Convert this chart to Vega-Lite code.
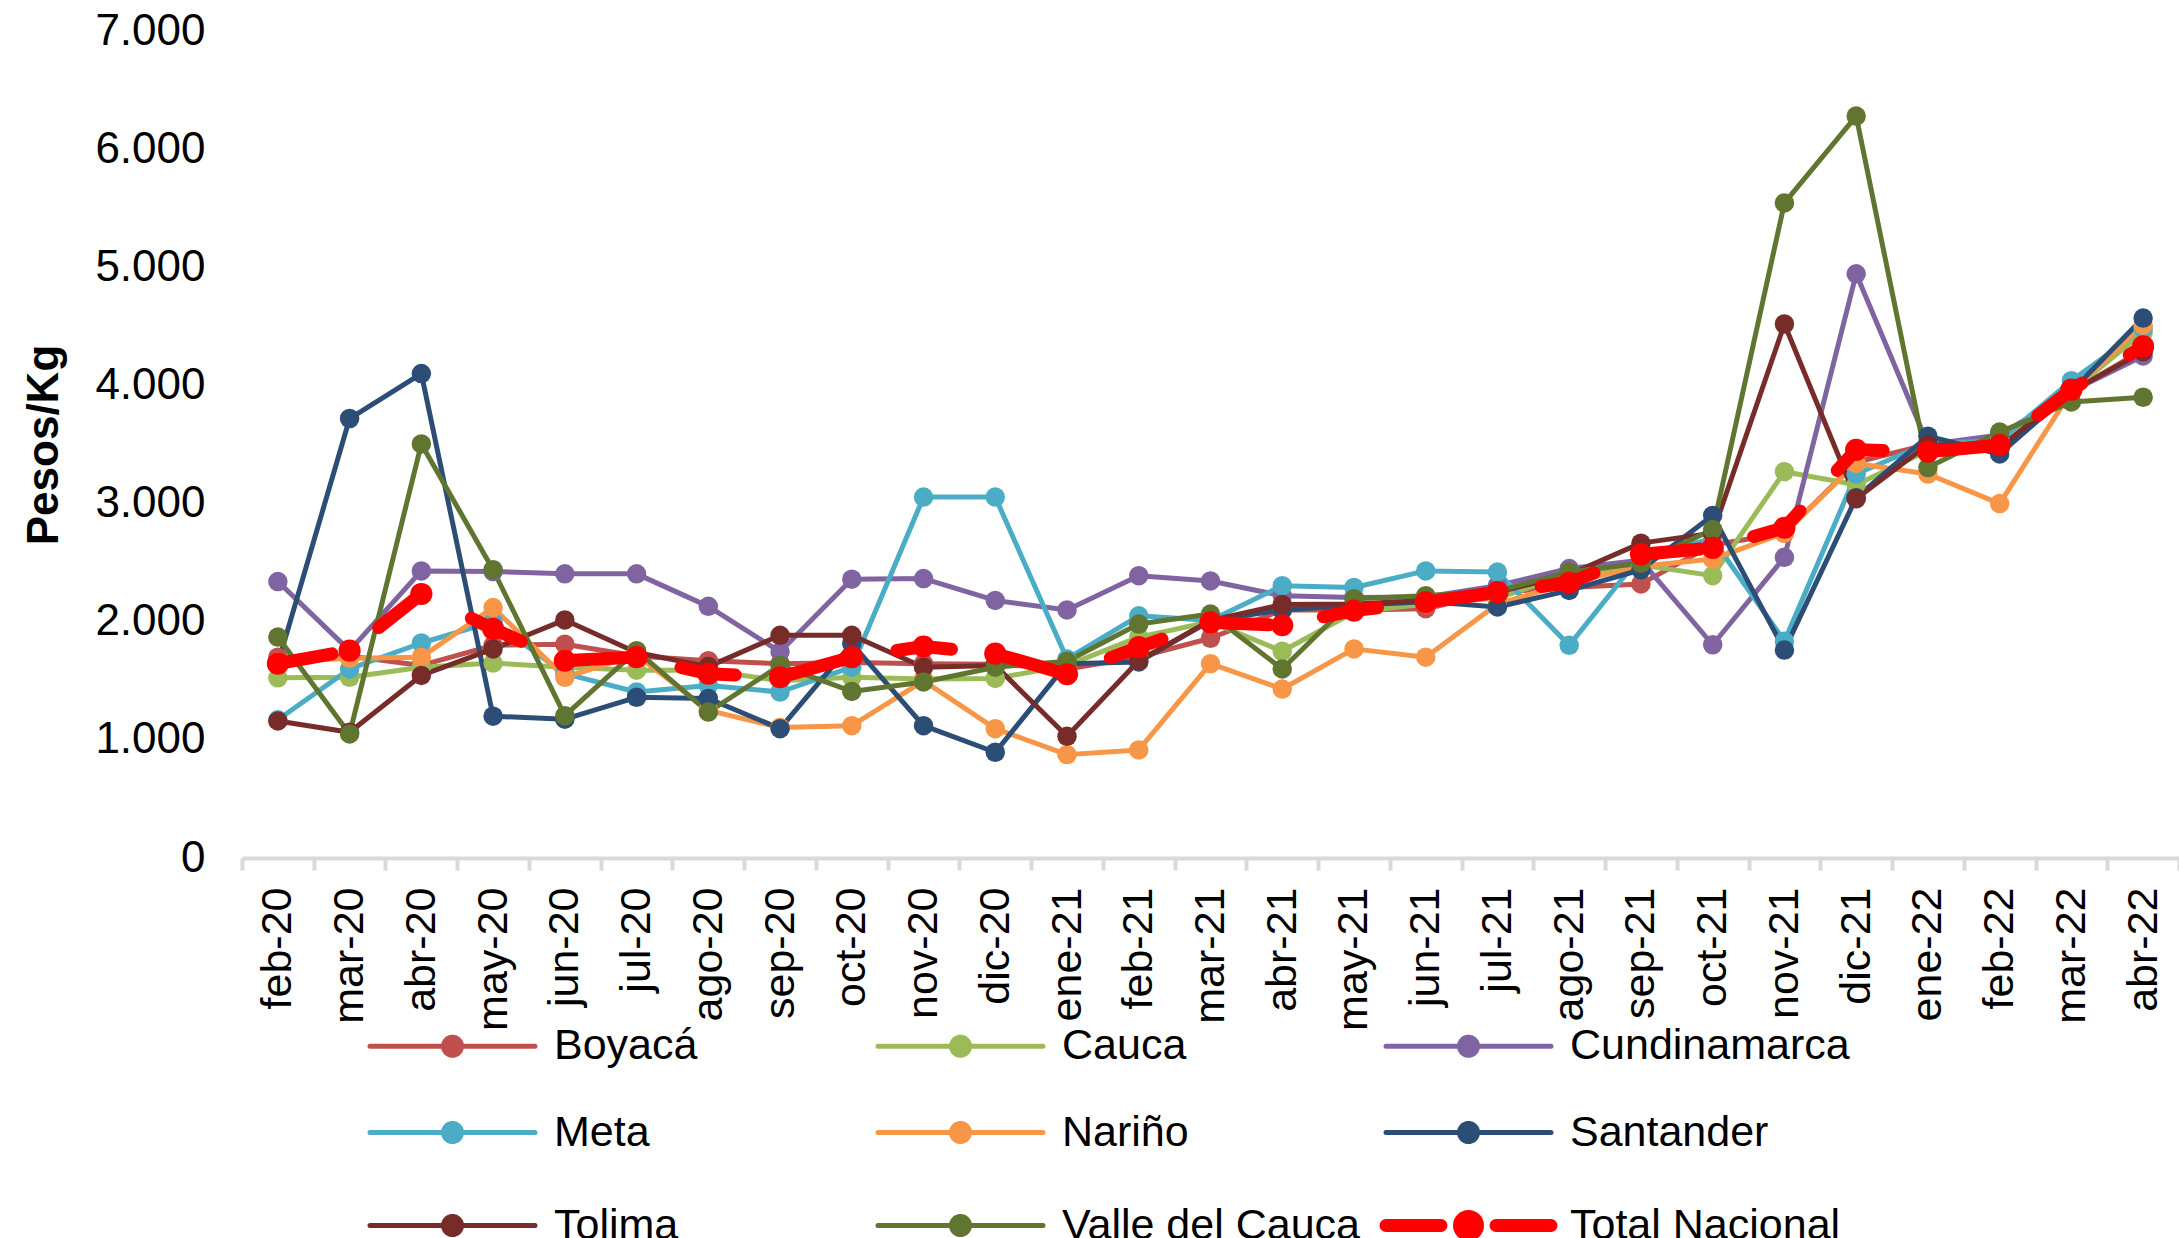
{
  "$schema": "https://vega.github.io/schema/vega-lite/v6.json",
  "width": 1937,
  "height": 827,
  "autosize": {"type": "none"},
  "padding": {"left": 242, "top": 31, "right": 0, "bottom": 380},
  "background": "white",
  "config": {
    "view": {"stroke": null},
    "font": "Liberation Sans",
    "axis": {"labelFont": "Liberation Sans", "labelColor": "#000000", "titleFont": "Liberation Sans", "titleColor": "#000000"},
    "legend": {"labelFont": "Liberation Sans", "labelColor": "#000000"}
  },
  "data": {
    "values": [
      {"mes":"feb-20","serie":"Boyacá","valor":1700},{"mes":"mar-20","serie":"Boyacá","valor":1710},{"mes":"abr-20","serie":"Boyacá","valor":1630},{"mes":"may-20","serie":"Boyacá","valor":1800},{"mes":"jun-20","serie":"Boyacá","valor":1810},{"mes":"jul-20","serie":"Boyacá","valor":1710},{"mes":"ago-20","serie":"Boyacá","valor":1670},{"mes":"sep-20","serie":"Boyacá","valor":1645},{"mes":"oct-20","serie":"Boyacá","valor":1655},{"mes":"nov-20","serie":"Boyacá","valor":1645},{"mes":"dic-20","serie":"Boyacá","valor":1640},{"mes":"ene-21","serie":"Boyacá","valor":1600},{"mes":"feb-21","serie":"Boyacá","valor":1700},{"mes":"mar-21","serie":"Boyacá","valor":1860},{"mes":"abr-21","serie":"Boyacá","valor":2100},{"mes":"may-21","serie":"Boyacá","valor":2100},{"mes":"jun-21","serie":"Boyacá","valor":2110},{"mes":"jul-21","serie":"Boyacá","valor":2250},{"mes":"ago-21","serie":"Boyacá","valor":2290},{"mes":"sep-21","serie":"Boyacá","valor":2320},{"mes":"oct-21","serie":"Boyacá","valor":2650},{"mes":"nov-21","serie":"Boyacá","valor":2750},{"mes":"dic-21","serie":"Boyacá","valor":3350},{"mes":"ene-22","serie":"Boyacá","valor":3500},{"mes":"feb-22","serie":"Boyacá","valor":3450},{"mes":"mar-22","serie":"Boyacá","valor":3950},{"mes":"abr-22","serie":"Boyacá","valor":4300},
      {"mes":"feb-20","serie":"Cauca","valor":1525},{"mes":"mar-20","serie":"Cauca","valor":1530},{"mes":"abr-20","serie":"Cauca","valor":1615},{"mes":"may-20","serie":"Cauca","valor":1650},{"mes":"jun-20","serie":"Cauca","valor":1615},{"mes":"jul-20","serie":"Cauca","valor":1590},{"mes":"ago-20","serie":"Cauca","valor":1590},{"mes":"sep-20","serie":"Cauca","valor":1500},{"mes":"oct-20","serie":"Cauca","valor":1530},{"mes":"nov-20","serie":"Cauca","valor":1515},{"mes":"dic-20","serie":"Cauca","valor":1520},{"mes":"ene-21","serie":"Cauca","valor":1630},{"mes":"feb-21","serie":"Cauca","valor":1870},{"mes":"mar-21","serie":"Cauca","valor":2000},{"mes":"abr-21","serie":"Cauca","valor":1750},{"mes":"may-21","serie":"Cauca","valor":2080},{"mes":"jun-21","serie":"Cauca","valor":2150},{"mes":"jul-21","serie":"Cauca","valor":2200},{"mes":"ago-21","serie":"Cauca","valor":2400},{"mes":"sep-21","serie":"Cauca","valor":2480},{"mes":"oct-21","serie":"Cauca","valor":2390},{"mes":"nov-21","serie":"Cauca","valor":3270},{"mes":"dic-21","serie":"Cauca","valor":3160},{"mes":"ene-22","serie":"Cauca","valor":3450},{"mes":"feb-22","serie":"Cauca","valor":3550},{"mes":"mar-22","serie":"Cauca","valor":3950},{"mes":"abr-22","serie":"Cauca","valor":4450},
      {"mes":"feb-20","serie":"Cundinamarca","valor":2340},{"mes":"mar-20","serie":"Cundinamarca","valor":1755},{"mes":"abr-20","serie":"Cundinamarca","valor":2430},{"mes":"may-20","serie":"Cundinamarca","valor":2425},{"mes":"jun-20","serie":"Cundinamarca","valor":2405},{"mes":"jul-20","serie":"Cundinamarca","valor":2405},{"mes":"ago-20","serie":"Cundinamarca","valor":2130},{"mes":"sep-20","serie":"Cundinamarca","valor":1745},{"mes":"oct-20","serie":"Cundinamarca","valor":2360},{"mes":"nov-20","serie":"Cundinamarca","valor":2365},{"mes":"dic-20","serie":"Cundinamarca","valor":2180},{"mes":"ene-21","serie":"Cundinamarca","valor":2100},{"mes":"feb-21","serie":"Cundinamarca","valor":2390},{"mes":"mar-21","serie":"Cundinamarca","valor":2345},{"mes":"abr-21","serie":"Cundinamarca","valor":2220},{"mes":"may-21","serie":"Cundinamarca","valor":2205},{"mes":"jun-21","serie":"Cundinamarca","valor":2210},{"mes":"jul-21","serie":"Cundinamarca","valor":2305},{"mes":"ago-21","serie":"Cundinamarca","valor":2450},{"mes":"sep-21","serie":"Cundinamarca","valor":2520},{"mes":"oct-21","serie":"Cundinamarca","valor":1805},{"mes":"nov-21","serie":"Cundinamarca","valor":2545},{"mes":"dic-21","serie":"Cundinamarca","valor":4945},{"mes":"ene-22","serie":"Cundinamarca","valor":3500},{"mes":"feb-22","serie":"Cundinamarca","valor":3580},{"mes":"mar-22","serie":"Cundinamarca","valor":3950},{"mes":"abr-22","serie":"Cundinamarca","valor":4250},
      {"mes":"feb-20","serie":"Meta","valor":1170},{"mes":"mar-20","serie":"Meta","valor":1600},{"mes":"abr-20","serie":"Meta","valor":1820},{"mes":"may-20","serie":"Meta","valor":2000},{"mes":"jun-20","serie":"Meta","valor":1560},{"mes":"jul-20","serie":"Meta","valor":1405},{"mes":"ago-20","serie":"Meta","valor":1460},{"mes":"sep-20","serie":"Meta","valor":1405},{"mes":"oct-20","serie":"Meta","valor":1615},{"mes":"nov-20","serie":"Meta","valor":3055},{"mes":"dic-20","serie":"Meta","valor":3055},{"mes":"ene-21","serie":"Meta","valor":1685},{"mes":"feb-21","serie":"Meta","valor":2050},{"mes":"mar-21","serie":"Meta","valor":2010},{"mes":"abr-21","serie":"Meta","valor":2305},{"mes":"may-21","serie":"Meta","valor":2290},{"mes":"jun-21","serie":"Meta","valor":2430},{"mes":"jul-21","serie":"Meta","valor":2420},{"mes":"ago-21","serie":"Meta","valor":1800},{"mes":"sep-21","serie":"Meta","valor":2560},{"mes":"oct-21","serie":"Meta","valor":2700},{"mes":"nov-21","serie":"Meta","valor":1835},{"mes":"dic-21","serie":"Meta","valor":3250},{"mes":"ene-22","serie":"Meta","valor":3510},{"mes":"feb-22","serie":"Meta","valor":3530},{"mes":"mar-22","serie":"Meta","valor":4040},{"mes":"abr-22","serie":"Meta","valor":4480},
      {"mes":"feb-20","serie":"Nariño","valor":1660},{"mes":"mar-20","serie":"Nariño","valor":1690},{"mes":"abr-20","serie":"Nariño","valor":1700},{"mes":"may-20","serie":"Nariño","valor":2120},{"mes":"jun-20","serie":"Nariño","valor":1530},{"mes":"jul-20","serie":"Nariño","valor":1720},{"mes":"ago-20","serie":"Nariño","valor":1250},{"mes":"sep-20","serie":"Nariño","valor":1105},{"mes":"oct-20","serie":"Nariño","valor":1120},{"mes":"nov-20","serie":"Nariño","valor":1500},{"mes":"dic-20","serie":"Nariño","valor":1095},{"mes":"ene-21","serie":"Nariño","valor":875},{"mes":"feb-21","serie":"Nariño","valor":915},{"mes":"mar-21","serie":"Nariño","valor":1645},{"mes":"abr-21","serie":"Nariño","valor":1430},{"mes":"may-21","serie":"Nariño","valor":1770},{"mes":"jun-21","serie":"Nariño","valor":1700},{"mes":"jul-21","serie":"Nariño","valor":2150},{"mes":"ago-21","serie":"Nariño","valor":2330},{"mes":"sep-21","serie":"Nariño","valor":2470},{"mes":"oct-21","serie":"Nariño","valor":2530},{"mes":"nov-21","serie":"Nariño","valor":2750},{"mes":"dic-21","serie":"Nariño","valor":3340},{"mes":"ene-22","serie":"Nariño","valor":3250},{"mes":"feb-22","serie":"Nariño","valor":3000},{"mes":"mar-22","serie":"Nariño","valor":3950},{"mes":"abr-22","serie":"Nariño","valor":4510},
      {"mes":"feb-20","serie":"Santander","valor":1645},{"mes":"mar-20","serie":"Santander","valor":3720},{"mes":"abr-20","serie":"Santander","valor":4100},{"mes":"may-20","serie":"Santander","valor":1200},{"mes":"jun-20","serie":"Santander","valor":1175},{"mes":"jul-20","serie":"Santander","valor":1360},{"mes":"ago-20","serie":"Santander","valor":1350},{"mes":"sep-20","serie":"Santander","valor":1095},{"mes":"oct-20","serie":"Santander","valor":1815},{"mes":"nov-20","serie":"Santander","valor":1120},{"mes":"dic-20","serie":"Santander","valor":895},{"mes":"ene-21","serie":"Santander","valor":1645},{"mes":"feb-21","serie":"Santander","valor":1660},{"mes":"mar-21","serie":"Santander","valor":2010},{"mes":"abr-21","serie":"Santander","valor":2100},{"mes":"may-21","serie":"Santander","valor":2140},{"mes":"jun-21","serie":"Santander","valor":2170},{"mes":"jul-21","serie":"Santander","valor":2125},{"mes":"ago-21","serie":"Santander","valor":2265},{"mes":"sep-21","serie":"Santander","valor":2440},{"mes":"oct-21","serie":"Santander","valor":2900},{"mes":"nov-21","serie":"Santander","valor":1760},{"mes":"dic-21","serie":"Santander","valor":3050},{"mes":"ene-22","serie":"Santander","valor":3570},{"mes":"feb-22","serie":"Santander","valor":3420},{"mes":"mar-22","serie":"Santander","valor":3950},{"mes":"abr-22","serie":"Santander","valor":4570},
      {"mes":"feb-20","serie":"Tolima","valor":1160},{"mes":"mar-20","serie":"Tolima","valor":1065},{"mes":"abr-20","serie":"Tolima","valor":1545},{"mes":"may-20","serie":"Tolima","valor":1770},{"mes":"jun-20","serie":"Tolima","valor":2015},{"mes":"jul-20","serie":"Tolima","valor":1740},{"mes":"ago-20","serie":"Tolima","valor":1620},{"mes":"sep-20","serie":"Tolima","valor":1885},{"mes":"oct-20","serie":"Tolima","valor":1885},{"mes":"nov-20","serie":"Tolima","valor":1615},{"mes":"dic-20","serie":"Tolima","valor":1630},{"mes":"ene-21","serie":"Tolima","valor":1030},{"mes":"feb-21","serie":"Tolima","valor":1670},{"mes":"mar-21","serie":"Tolima","valor":2010},{"mes":"abr-21","serie":"Tolima","valor":2145},{"mes":"may-21","serie":"Tolima","valor":2150},{"mes":"jun-21","serie":"Tolima","valor":2180},{"mes":"jul-21","serie":"Tolima","valor":2250},{"mes":"ago-21","serie":"Tolima","valor":2400},{"mes":"sep-21","serie":"Tolima","valor":2665},{"mes":"oct-21","serie":"Tolima","valor":2750},{"mes":"nov-21","serie":"Tolima","valor":4520},{"mes":"dic-21","serie":"Tolima","valor":3040},{"mes":"ene-22","serie":"Tolima","valor":3500},{"mes":"feb-22","serie":"Tolima","valor":3480},{"mes":"mar-22","serie":"Tolima","valor":3950},{"mes":"abr-22","serie":"Tolima","valor":4285},
      {"mes":"feb-20","serie":"Valle del Cauca","valor":1870},{"mes":"mar-20","serie":"Valle del Cauca","valor":1050},{"mes":"abr-20","serie":"Valle del Cauca","valor":3505},{"mes":"may-20","serie":"Valle del Cauca","valor":2440},{"mes":"jun-20","serie":"Valle del Cauca","valor":1205},{"mes":"jul-20","serie":"Valle del Cauca","valor":1755},{"mes":"ago-20","serie":"Valle del Cauca","valor":1235},{"mes":"sep-20","serie":"Valle del Cauca","valor":1630},{"mes":"oct-20","serie":"Valle del Cauca","valor":1410},{"mes":"nov-20","serie":"Valle del Cauca","valor":1490},{"mes":"dic-20","serie":"Valle del Cauca","valor":1615},{"mes":"ene-21","serie":"Valle del Cauca","valor":1665},{"mes":"feb-21","serie":"Valle del Cauca","valor":1980},{"mes":"mar-21","serie":"Valle del Cauca","valor":2065},{"mes":"abr-21","serie":"Valle del Cauca","valor":1600},{"mes":"may-21","serie":"Valle del Cauca","valor":2195},{"mes":"jun-21","serie":"Valle del Cauca","valor":2220},{"mes":"jul-21","serie":"Valle del Cauca","valor":2260},{"mes":"ago-21","serie":"Valle del Cauca","valor":2420},{"mes":"sep-21","serie":"Valle del Cauca","valor":2495},{"mes":"oct-21","serie":"Valle del Cauca","valor":2780},{"mes":"nov-21","serie":"Valle del Cauca","valor":5545},{"mes":"dic-21","serie":"Valle del Cauca","valor":6280},{"mes":"ene-22","serie":"Valle del Cauca","valor":3305},{"mes":"feb-22","serie":"Valle del Cauca","valor":3605},{"mes":"mar-22","serie":"Valle del Cauca","valor":3860},{"mes":"abr-22","serie":"Valle del Cauca","valor":3900},
      {"mes":"feb-20","serie":"Total Nacional","valor":1645},{"mes":"mar-20","serie":"Total Nacional","valor":1755},{"mes":"abr-20","serie":"Total Nacional","valor":2235},{"mes":"may-20","serie":"Total Nacional","valor":1940},{"mes":"jun-20","serie":"Total Nacional","valor":1670},{"mes":"jul-20","serie":"Total Nacional","valor":1700},{"mes":"ago-20","serie":"Total Nacional","valor":1560},{"mes":"sep-20","serie":"Total Nacional","valor":1530},{"mes":"oct-20","serie":"Total Nacional","valor":1700},{"mes":"nov-20","serie":"Total Nacional","valor":1790},{"mes":"dic-20","serie":"Total Nacional","valor":1730},{"mes":"ene-21","serie":"Total Nacional","valor":1555},{"mes":"feb-21","serie":"Total Nacional","valor":1785},{"mes":"mar-21","serie":"Total Nacional","valor":1995},{"mes":"abr-21","serie":"Total Nacional","valor":1970},{"mes":"may-21","serie":"Total Nacional","valor":2095},{"mes":"jun-21","serie":"Total Nacional","valor":2165},{"mes":"jul-21","serie":"Total Nacional","valor":2250},{"mes":"ago-21","serie":"Total Nacional","valor":2330},{"mes":"sep-21","serie":"Total Nacional","valor":2570},{"mes":"oct-21","serie":"Total Nacional","valor":2625},{"mes":"nov-21","serie":"Total Nacional","valor":2795},{"mes":"dic-21","serie":"Total Nacional","valor":3455},{"mes":"ene-22","serie":"Total Nacional","valor":3440},{"mes":"feb-22","serie":"Total Nacional","valor":3495},{"mes":"mar-22","serie":"Total Nacional","valor":3965},{"mes":"abr-22","serie":"Total Nacional","valor":4330}
    ]
  },
  "encoding": {
    "x": {
      "field": "mes", "type": "ordinal",
      "scale": {"type": "band", "paddingInner": 0, "paddingOuter": 0,
        "domain": ["feb-20","mar-20","abr-20","may-20","jun-20","jul-20","ago-20","sep-20","oct-20","nov-20","dic-20","ene-21","feb-21","mar-21","abr-21","may-21","jun-21","jul-21","ago-21","sep-21","oct-21","nov-21","dic-21","ene-22","feb-22","mar-22","abr-22"]},
      "axis": {"title": null, "labelAngle": -90, "labelFontSize": 43, "labelPadding": 17, "tickBand": "extent", "ticks": true, "tickSize": 12, "tickWidth": 4, "tickColor": "#D9D9D9", "domainColor": "#D9D9D9", "domainWidth": 4, "grid": false}
    },
    "y": {
      "field": "valor", "type": "quantitative",
      "scale": {"domain": [0, 7000], "nice": false},
      "axis": {"title": "Pesos/Kg", "titleFontSize": 44, "titleFontWeight": "bold", "titlePadding": 28, "values": [0,1000,2000,3000,4000,5000,6000,7000], "labelExpr": "replace(format(datum.value, ','), ',', '.')", "labelFontSize": 44, "grid": false, "domain": false, "ticks": false, "labelPadding": 37}
    }
  },
  "layer": [
    {
      "transform": [{"filter": "datum.serie !== 'Total Nacional'"}],
      "mark": {"type": "line", "strokeCap": "round", "strokeJoin": "round", "strokeWidth": 5},
      "encoding": {
        "color": {"field": "serie", "type": "nominal", "title": null,
          "scale": {"domain": ["Boyacá","Cauca","Cundinamarca","Meta","Nariño","Santander","Tolima","Valle del Cauca","Total Nacional"], "range": ["#C0504D","#9BBB59","#8064A2","#4BACC6","#F79646","#2C4D75","#772C2A","#5F7530","#FF0000"]},
          "legend": {
            "title": null, "orient": "none", "legendX": 133, "legendY": 987, "direction": "horizontal",
            "columns": 3, "gridAlign": "all", "columnPadding": 0, "rowPadding": 22, "padding": 0,
            "symbolType": "M-4.125,0L4.125,0M0.45,0A0.45,0.45,0,1,1,-0.45,0A0.45,0.45,0,1,1,0.45,0Z",
            "symbolSize": 1600, "symbolOffset": 56, "labelOffset": 80,
            "labelFontSize": 43, "labelLimit": 800, "labelFont": "Liberation Sans", "labelColor": "#000000",
            "encode": {"symbols": {"update": {
              "strokeCap": {"value": "round"}, "fillOpacity": {"value": 1}, "strokeOpacity": {"value": 1},
              "strokeWidth": {"signal": "datum.value === 'Total Nacional' ? 13 : 5"},
              "strokeDash": {"signal": "datum.value === 'Total Nacional' ? [55,55] : [1,0]"}
            }}}
          }
        }
      }
    },
    {
      "transform": [{"filter": "datum.serie !== 'Total Nacional'"}],
      "mark": {"type": "point", "filled": true, "opacity": 1, "size": 380},
      "encoding": {
        "color": {"field": "serie", "type": "nominal", "title": null}
      }
    },
    {
      "transform": [{"filter": "datum.serie === 'Total Nacional'"}],
      "mark": {"type": "line", "strokeCap": "round", "strokeJoin": "round", "strokeWidth": 13, "strokeDash": [55, 55]},
      "encoding": {
        "color": {"field": "serie", "type": "nominal", "title": null}
      }
    },
    {
      "transform": [{"filter": "datum.serie === 'Total Nacional'"}],
      "mark": {"type": "point", "filled": true, "opacity": 1, "size": 490},
      "encoding": {
        "color": {"field": "serie", "type": "nominal", "title": null}
      }
    }
  ]
}
